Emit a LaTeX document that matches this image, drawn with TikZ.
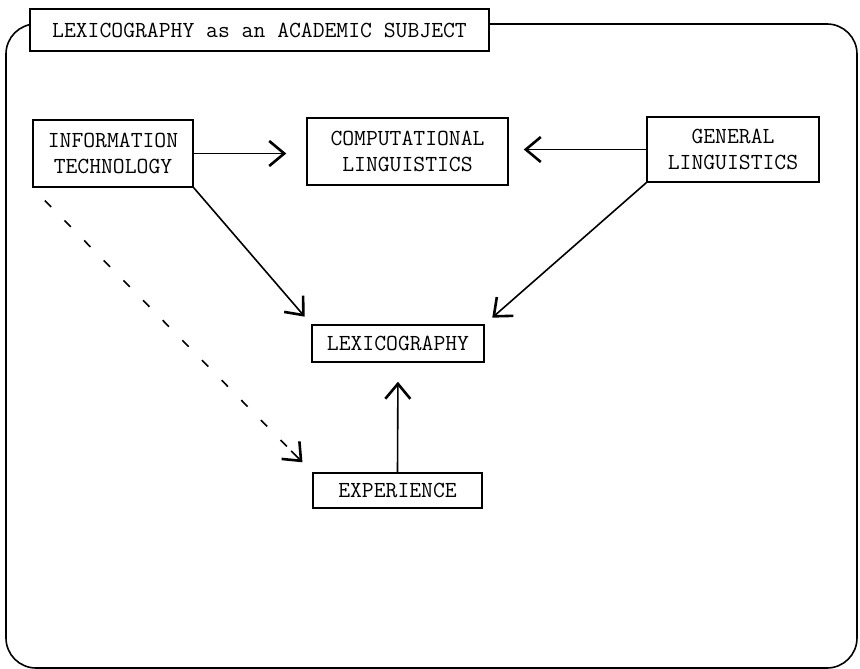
\documentclass[tikz,border=0pt]{standalone}
\usepackage{fontspec}
\usetikzlibrary{arrows.meta,calc}
\begin{document}
\begin{tikzpicture}[x=1pt,y=-1pt,
  box/.style={draw, line width=1.5pt, fill=white, align=center,
    font=\fontsize{23}{26}\selectfont\ttfamily\addfontfeatures{FakeBold=1}, inner sep=0pt},
  arr/.style={line width=1.6pt, -{Straight Barb[length=15pt,width=25pt,line width=2.6pt]}},
  frame/.style={line width=1.6pt, rounded corners=30pt},
]
\useasboundingbox (0,0) rectangle (860,669);
\draw[frame] (6,24) rectangle (857,668);
\node[box, minimum width=459pt, minimum height=42pt] (title) at (259.5,30) {LEXICOGRAPHY as an ACADEMIC SUBJECT};
\node[box, minimum width=160pt, minimum height=67pt] (it) at (113,153.5) {INFORMATION\\TECHNOLOGY};
\node[box, minimum width=201pt, minimum height=67pt] (cl) at (407.5,151.5) {COMPUTATIONAL\\LINGUISTICS};
\node[box, minimum width=172pt, minimum height=65pt] (gl) at (733,149.5) {GENERAL\\LINGUISTICS};
\node[box, minimum width=172pt, minimum height=37pt] (lex) at (398,343.5) {LEXICOGRAPHY};
\node[box, minimum width=169pt, minimum height=35pt] (exp) at (397.5,490.5) {EXPERIENCE};
\draw[arr, shorten >=20pt] (it.east) -- (it.east -| cl.west);
\draw[arr, shorten >=15pt] (gl.west) -- (gl.west -| cl.east);
\draw[arr, shorten >=10pt] (it.south east) -- (lex.north west);
\draw[arr, shorten >=10pt] (gl.south west) -- (lex.north east);
\draw[arr, shorten >=19pt] (exp.north) -- (lex.south);
\coordinate (dstart) at ($(it.south west)!0.045!(exp.north west)$);
\coordinate (dtip) at ($(it.south west)!0.965!(exp.north west)$);
\coordinate (dlast) at ($(it.south west)!0.925!(exp.north west)$);
\draw[line width=1.6pt, dash pattern=on 9pt off 19pt] (dstart) -- (dlast);
\draw[arr] (dlast) -- (dtip);
\end{tikzpicture}
\end{document}
